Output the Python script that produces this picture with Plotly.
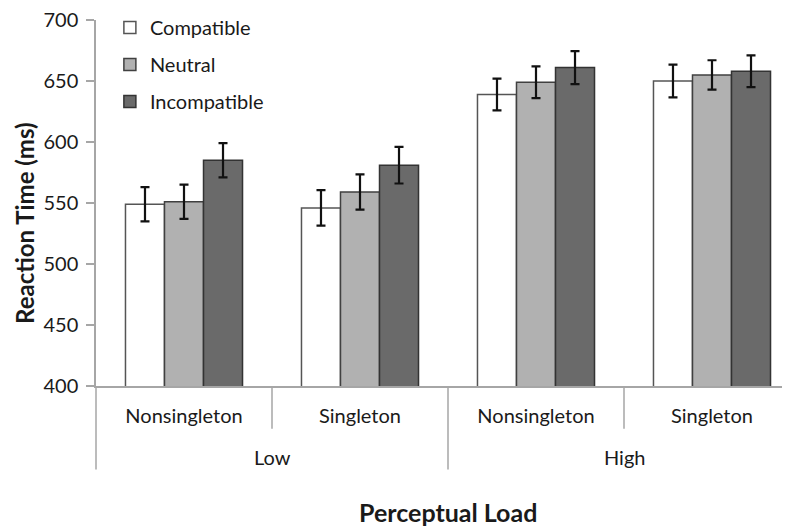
import plotly.graph_objects as go

# ---- data ----
conditions = ["Nonsingleton", "Singleton", "Nonsingleton", "Singleton"]
load_levels = ["Low", "High"]
series_names = ["Compatible", "Neutral", "Incompatible"]
compatible = [549, 546, 639, 650]
neutral = [551, 559, 649, 655]
incompatible = [585, 581, 661, 658]
err_compatible = [14, 14.5, 13, 13.5]
err_neutral = [14, 14.5, 13, 12]
err_incompatible = [14, 15, 13.5, 13]
y_ticks = [400, 450, 500, 550, 600, 650, 700]

values = [compatible, neutral, incompatible]
errors = [err_compatible, err_neutral, err_incompatible]
fills = ["#ffffff", "#b1b1b1", "#6a6a6a"]
outlines = ["#555555", "#404040", "#333333"]

FONT = "Lato"
PAGE_OFF = 8            # browser body margin
W, H = 790 - PAGE_OFF, 527 - PAGE_OFF
ML, MT, MB, MR = 96 - PAGE_OFF, 18 - PAGE_OFF, 141, 0
plot_w = W - ML - MR
plot_h = H - MT - MB
plot_bottom = PAGE_OFF + H - MB   # page pixel of the x axis line
plot_left = PAGE_OFF + ML
group_px = 176
x_pos = list(range(len(conditions)))
xmin = -0.5
xmax = xmin + plot_w / group_px

fig = go.Figure()
for name, v, e, fc, lc in zip(series_names, values, errors, fills, outlines):
    fig.add_trace(go.Bar(
        x=x_pos, y=v, name=name, legendgroup=name,
        marker=dict(color=fc, line=dict(color=lc, width=1.5)),
        error_y=dict(type="data", array=e, visible=True, color="#111111",
                     thickness=2.2, width=4.5),
    ))

def xp(v):
    return (v - xmin) / (xmax - xmin)

def yp(px):
    return -(px - plot_bottom) / plot_h

shapes = []
for b, long in [(-0.5, True), (0.5, False), (1.5, True), (2.5, False)]:
    shapes.append(dict(type="line", xref="paper", yref="paper",
                       x0=xp(b), x1=xp(b), y0=0, y1=yp(470 if long else 429),
                       line=dict(color="#a6a6a6", width=1.5)))

annotations = []
for i, lab in enumerate(load_levels):
    annotations.append(dict(x=xp(0.5 + 2 * i), y=yp(457), xref="paper", yref="paper",
                            text=lab, showarrow=False, xanchor="center", yanchor="middle",
                            font=dict(family=FONT, size=20, color="#1a1a1a")))
annotations.append(dict(x=xp(1.5), y=yp(513), xref="paper", yref="paper",
                        text="<b>Perceptual Load</b>", showarrow=False,
                        xanchor="center", yanchor="middle",
                        font=dict(family=FONT, size=25, color="#1a1a1a")))
annotations.append(dict(x=(25 - plot_left) / plot_w, y=yp(223), xref="paper", yref="paper",
                        text="<b>Reaction Time (ms)</b>", showarrow=False, textangle=-90,
                        xanchor="center", yanchor="middle",
                        font=dict(family=FONT, size=24, color="#1a1a1a")))

fig.update_layout(
    width=W, height=H,
    margin=dict(l=ML, r=MR, t=MT, b=MB, pad=0),
    paper_bgcolor="white", plot_bgcolor="white",
    barmode="group", bargap=0.335, bargroupgap=0,
    font=dict(family=FONT, size=20, color="#1a1a1a"),
    showlegend=True,
    legend=dict(x=0.02, y=1.034, xanchor="left", yanchor="top",
                bgcolor="rgba(0,0,0,0)", tracegroupgap=8,
                font=dict(family=FONT, size=20, color="#1a1a1a"),
                itemwidth=30),
    xaxis=dict(range=[xmin, xmax], tickvals=x_pos, ticktext=conditions,
               showgrid=False, zeroline=False, showline=True,
               linecolor="#a6a6a6", linewidth=1.5, ticks="",
               ticklabelstandoff=11,
               tickfont=dict(family=FONT, size=20, color="#1a1a1a")),
    yaxis=dict(range=[400, 700], tickvals=y_ticks, showgrid=False, zeroline=False,
               showline=True, linecolor="#a6a6a6", linewidth=1.5,
               ticks="outside", ticklen=8, tickcolor="#a6a6a6", tickwidth=1.5,
               ticklabelstandoff=4, ticklabeloverflow="allow",
               tickfont=dict(family=FONT, size=20, color="#1a1a1a")),
    shapes=shapes, annotations=annotations,
)

fig.write_html("out.html")
